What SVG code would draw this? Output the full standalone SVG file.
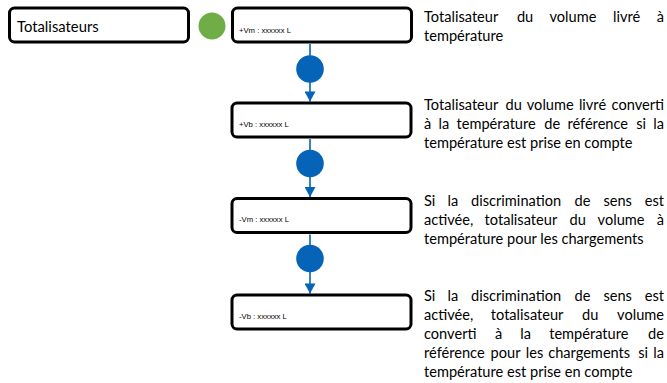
<svg xmlns="http://www.w3.org/2000/svg" width="667" height="383" viewBox="0 0 667 383">
<defs>
<style>
.box{fill:#fff;stroke:#000;stroke-width:3}
.lbl{font-family:Lato,"Liberation Sans",sans-serif;font-size:14.8px;fill:#000}
.val{font-family:"Liberation Sans",Arial,sans-serif;font-size:7.7px;fill:#000}
.desc{font-family:Lato,"Liberation Sans",sans-serif;font-size:14.6px;fill:#000}
.con{stroke:#0563B8;stroke-width:1.6;fill:none}
.dot{fill:#0563B8}
</style>
<marker id="ah" markerUnits="userSpaceOnUse" markerWidth="12" markerHeight="11" refX="11" refY="6" orient="auto" viewBox="0 0 11 12">
<path d="M0,0 L11,6 L0,12 Z" fill="#0563B8"/>
</marker>
</defs>
<rect width="667" height="383" fill="#fff"/>
<g id="connectors">
<line class="con" x1="310" y1="44" x2="310" y2="101.5" marker-end="url(#ah)"/>
<line class="con" x1="310" y1="139" x2="310" y2="197" marker-end="url(#ah)"/>
<line class="con" x1="310" y1="234.5" x2="310" y2="293.5" marker-end="url(#ah)"/>
</g>
<g id="totalisateurs">
<rect class="box" x="9.5" y="8" width="179" height="34" rx="5"/>
<text class="lbl" x="17" y="32">Totalisateurs</text>
</g>
<g id="start-dot"><circle cx="212" cy="26" r="13.5" fill="#70AD47"/></g>
<g id="vm-plus">
<rect class="box" x="232.5" y="8" width="179" height="34" rx="5"/>
<text class="val" x="239" y="33">+Vm : xxxxxx L</text>
</g>
<g id="dot1"><circle class="dot" cx="310" cy="69" r="13.8"/></g>
<g id="vb-plus">
<rect class="box" x="232" y="103" width="179" height="34" rx="5"/>
<text class="val" x="239" y="127">+Vb : xxxxxx L</text>
</g>
<g id="dot2"><circle class="dot" cx="310" cy="163.5" r="13.8"/></g>
<g id="vm-minus">
<rect class="box" x="232" y="198.5" width="179" height="34" rx="5"/>
<text class="val" x="239" y="221.5">-Vm : xxxxxx L</text>
</g>
<g id="dot3"><circle class="dot" cx="310" cy="258.5" r="13.8"/></g>
<g id="vb-minus">
<rect class="box" x="232" y="295" width="179" height="34" rx="5"/>
<text class="val" x="239" y="319">-Vb : xxxxxx L</text>
</g>
<g id="desc1" class="desc">
<text y="22"><tspan x="424">Totalisateur</tspan><tspan x="516.9">du</tspan><tspan x="549.5">volume</tspan><tspan x="613">livré</tspan><tspan x="664" text-anchor="end">à</tspan></text>
<text x="424" y="41">température</text>
</g>
<g id="desc2" class="desc">
<text y="110"><tspan x="424">Totalisateur</tspan><tspan x="505.5">du</tspan><tspan x="526.8">volume</tspan><tspan x="578.9">livré</tspan><tspan x="664" text-anchor="end">converti</tspan></text>
<text y="129"><tspan x="424">à</tspan><tspan x="438.5">la</tspan><tspan x="456.5">température</tspan><tspan x="544.3">de</tspan><tspan x="567.4">référence</tspan><tspan x="636.2">si</tspan><tspan x="664" text-anchor="end">la</tspan></text>
<text x="424" y="148">température est prise en compte</text>
</g>
<g id="desc3" class="desc">
<text y="206"><tspan x="424">Si</tspan><tspan x="447.5">la</tspan><tspan x="471.1">discrimination</tspan><tspan x="574.6">de</tspan><tspan x="603.4">sens</tspan><tspan x="664" text-anchor="end">est</tspan></text>
<text y="225"><tspan x="424">activée,</tspan><tspan x="484.6">totalisateur</tspan><tspan x="569.6">du</tspan><tspan x="597.6">volume</tspan><tspan x="664" text-anchor="end">à</tspan></text>
<text x="424" y="244">température pour les chargements</text>
</g>
<g id="desc4" class="desc">
<text y="301"><tspan x="424">Si</tspan><tspan x="447.5">la</tspan><tspan x="471.1">discrimination</tspan><tspan x="574.6">de</tspan><tspan x="603.4">sens</tspan><tspan x="664" text-anchor="end">est</tspan></text>
<text y="320"><tspan x="424">activée,</tspan><tspan x="490.8">totalisateur</tspan><tspan x="582.1">du</tspan><tspan x="664" text-anchor="end">volume</tspan></text>
<text y="339"><tspan x="424">converti</tspan><tspan x="494.9">à</tspan><tspan x="520.3">la</tspan><tspan x="549.2">température</tspan><tspan x="664" text-anchor="end">de</tspan></text>
<text y="358"><tspan x="424">référence</tspan><tspan x="490.6">pour</tspan><tspan x="525.8">les</tspan><tspan x="548.2">chargements</tspan><tspan x="638.3">si</tspan><tspan x="664" text-anchor="end">la</tspan></text>
<text x="424" y="377">température est prise en compte</text>
</g>
</svg>
